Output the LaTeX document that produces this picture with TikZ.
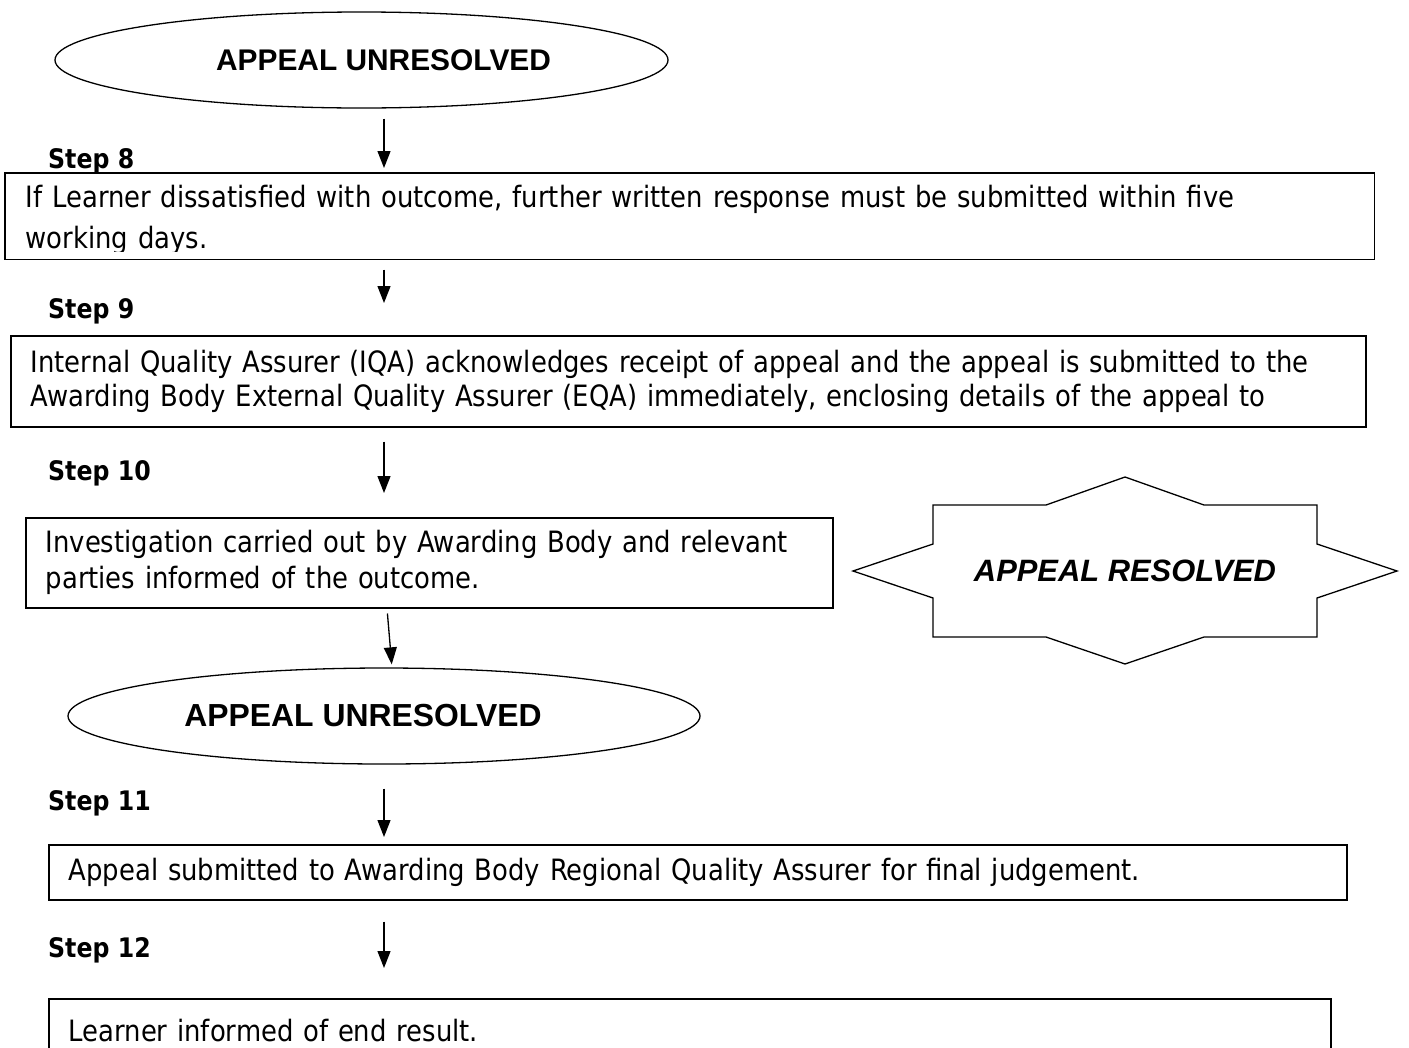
\documentclass[tikz,border=0pt]{standalone}
\usepackage{fontspec}
\setmainfont{DejaVu Sans}[FakeStretch=0.88]
\newfontfamily\arialfont{Liberation Sans}
\usetikzlibrary{shapes.geometric,arrows.meta}

\tikzset{
  stepbox/.style = {draw, line width=1.5bp, anchor=north west, inner xsep=20bp, inner ysep=0bp,
                    align=left, font=\fontsize{29.5}{36}\selectfont},
  steplabel/.style = {anchor=base west, inner sep=0bp, font=\fontsize{27}{32}\selectfont\bfseries},
  unresolved/.style = {draw, ellipse, line width=1.3bp, inner sep=0bp, minimum width=613bp,
                       minimum height=96bp, font=\arialfont\fontsize{30}{36}\selectfont\bfseries},
  flow/.style = {line width=1.3bp, -{Triangle[length=17bp,width=13bp]}}
}

\begin{document}
\begin{tikzpicture}[x=1bp, y=-1bp]
  \useasboundingbox (0,0) rectangle (1409,1047);
  \coordinate (spine) at (384,0);

  % ovals
  \node[unresolved] (top) at (361.5,60) {\hspace*{44bp}APPEAL UNRESOLVED};
  \node[unresolved, minimum width=632bp, font=\arialfont\fontsize{32}{36}\selectfont\bfseries] (low) at (384,716)
    {APPEAL UNRESOLVED\hspace*{42bp}};

  % step boxes (text of step 8 runs past its frame and is cut off)
  \begin{scope}
    \clip (5,173) rectangle (1373,251);
    \node[stepbox, draw=none, minimum width=1368bp, minimum height=85bp, text width=1328bp,
          font=\fontsize{29.5}{41}\selectfont] (s8) at (5,173)
      {\rule{0pt}{30bp}If Learner dissatisfied with outcome, further written response must be submitted within five\\working days.};
  \end{scope}
  \draw[line width=1.5bp] (s8.north west) rectangle (s8.south east);
  \node[stepbox, minimum width=1355bp, minimum height=91bp, text width=1315bp,
        font=\fontsize{29.5}{34}\selectfont] (s9) at (10,335)
    {Internal Quality Assurer (IQA) acknowledges receipt of appeal and the appeal is submitted to the\\Awarding Body External Quality Assurer (EQA) immediately, enclosing details of the appeal to};
  \node[stepbox, minimum width=807bp, minimum height=90bp, text width=767bp] (s10) at (25,517)
    {Investigation carried out by Awarding Body and relevant\\parties informed of the outcome.};
  \node[stepbox, minimum width=1298bp, minimum height=55bp, text width=1258bp] (s11) at (48,844)
    {Appeal submitted to Awarding Body Regional Quality Assurer for final judgement.};
  \node[stepbox, minimum width=1282bp, minimum height=64bp, text width=1242bp] (s12) at (48,998)
    {Learner informed of end result.};

  \foreach \n/\y in {8/168, 9/318, 10/480, 11/810, 12/957}
    \node[steplabel] (step\n) at (48,\y) {Step \n};

  % resolved star
  \node[font=\arialfont\fontsize{31}{36}\selectfont\bfseries\itshape] (resolved) at (1125,571) {APPEAL RESOLVED};
  \draw[line width=1.3bp, shift={(resolved)}]
    (-272,0) -- (-192,-27) -- (-192,-66) -- (-79,-66) -- (0,-94) -- (79,-66) -- (192,-66) -- (192,-27)
    -- (272,0) -- (192,27) -- (192,66) -- (79,66) -- (0,93) -- (-79,66) -- (-192,66) -- (-192,27) -- cycle;

  % arrows
  \draw[flow, shorten <=10bp, shorten >=5bp] (top.south -| spine) -- (s8.north -| spine);
  \draw[flow, shorten <=10bp, shorten >=32bp] (s8.south -| spine) -- (s9.north -| spine);
  \draw[flow, shorten <=14bp, shorten >=24bp] (s9.south -| spine) -- (s10.north -| spine);
  \draw[flow, shorten <=5bp, shorten >=3bp] ([xshift=3bp]s10.south -| spine) -- ([xshift=8bp]low.north -| spine);
  \draw[flow, shorten <=24bp, shorten >=7bp] (low.south -| spine) -- (s11.north -| spine);
  \draw[flow, shorten <=21bp, shorten >=30bp] (s11.south -| spine) -- (s12.north -| spine);
\end{tikzpicture}
\end{document}
